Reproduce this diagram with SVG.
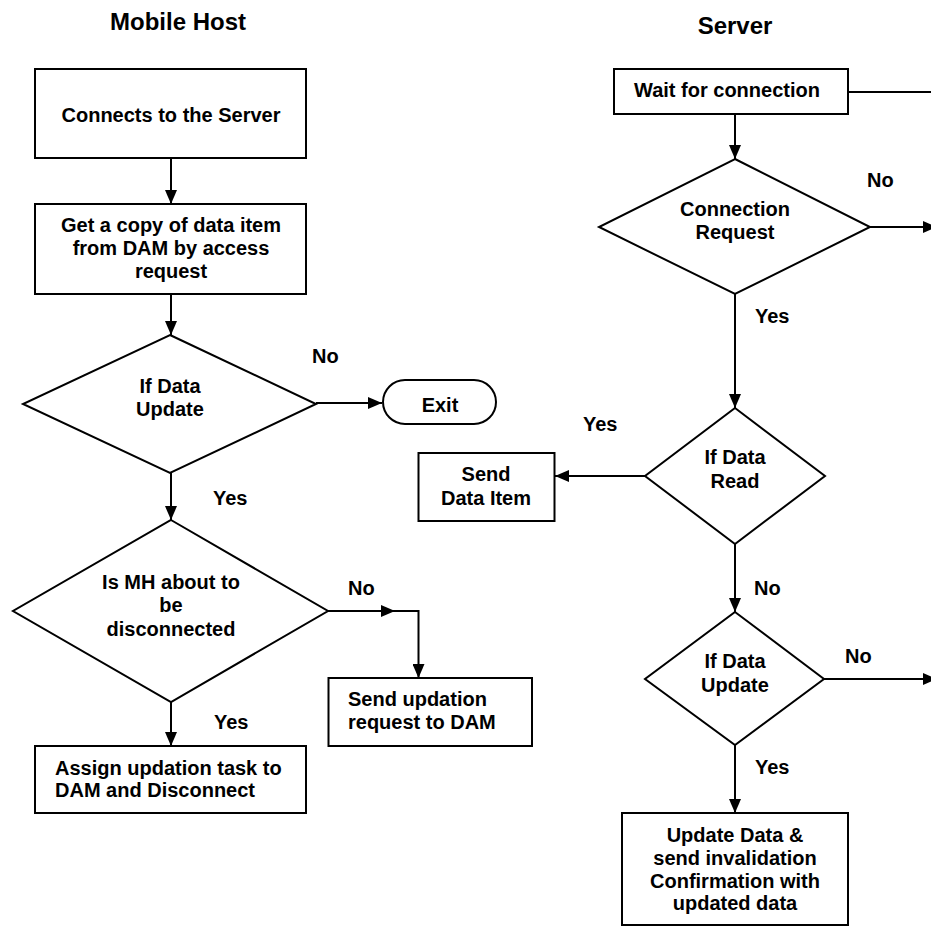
<svg xmlns="http://www.w3.org/2000/svg" width="931" height="926" viewBox="0 0 931 926">
<style>
text{font-family:"Liberation Sans",Arial,Helvetica,sans-serif;font-weight:bold;font-size:20px;fill:#000}
.t{font-size:24px}
.c{text-anchor:middle}
.shape{fill:#fff;stroke:#000;stroke-width:2}
.conn{fill:none;stroke:#000;stroke-width:2}
</style>
<defs>
<marker id="arr" markerUnits="userSpaceOnUse" markerWidth="14" markerHeight="12" viewBox="0 0 14 12" refX="14" refY="6" orient="auto">
<path d="M0,0 L14,6 L0,12 z" fill="#000"/>
</marker>
</defs>
<rect width="931" height="926" fill="#fff"/>
<text class="t c" x="178" y="30">Mobile Host</text>
<text class="t c" x="735" y="34">Server</text>
<g id="connectors">
<line class="conn" x1="171" y1="158" x2="171" y2="204" marker-end="url(#arr)"/>
<line class="conn" x1="171" y1="294" x2="171" y2="335" marker-end="url(#arr)"/>
<line class="conn" x1="316" y1="403" x2="382" y2="403" marker-end="url(#arr)"/>
<line class="conn" x1="171" y1="473" x2="171" y2="520" marker-end="url(#arr)"/>
<line class="conn" x1="328" y1="611" x2="395" y2="611" marker-end="url(#arr)"/>
<path class="conn" d="M394,611 H418.5 V678" marker-end="url(#arr)"/>
<line class="conn" x1="171" y1="702" x2="171" y2="746" marker-end="url(#arr)"/>
<line class="conn" x1="848" y1="92" x2="935" y2="92"/>
<line class="conn" x1="735" y1="114" x2="735" y2="159" marker-end="url(#arr)"/>
<line class="conn" x1="870" y1="227" x2="937" y2="227" marker-end="url(#arr)"/>
<line class="conn" x1="735" y1="294" x2="735" y2="408" marker-end="url(#arr)"/>
<line class="conn" x1="645" y1="476" x2="555" y2="476" marker-end="url(#arr)"/>
<line class="conn" x1="735" y1="544" x2="735" y2="612" marker-end="url(#arr)"/>
<line class="conn" x1="824" y1="679" x2="937" y2="679" marker-end="url(#arr)"/>
<line class="conn" x1="735" y1="745" x2="735" y2="813" marker-end="url(#arr)"/>
</g>
<g id="labels">
<text x="312" y="363">No</text>
<text x="213" y="505">Yes</text>
<text x="348" y="595">No</text>
<text x="214" y="729">Yes</text>
<text x="867" y="187">No</text>
<text x="755" y="323">Yes</text>
<text x="583" y="431">Yes</text>
<text x="754" y="595">No</text>
<text x="845" y="663">No</text>
<text x="755" y="774">Yes</text>
</g>
<g id="connect-server">
<rect class="shape" x="35" y="69" width="271" height="89"/>
<text class="c" x="171" y="122">Connects to the Server</text>
</g>
<g id="get-copy">
<rect class="shape" x="35" y="204" width="271" height="90"/>
<text class="c" x="171" y="232">Get a copy of data item</text>
<text class="c" x="171" y="255">from DAM by access</text>
<text class="c" x="171" y="278">request</text>
</g>
<g id="if-data-update-mh">
<polygon class="shape" points="170,335 316,404 170,473 23,404"/>
<text class="c" x="170" y="393">If Data</text>
<text class="c" x="170" y="416">Update</text>
</g>
<g id="exit">
<rect class="shape" x="383" y="380" width="113" height="44" rx="22" ry="22"/>
<text class="c" x="440" y="412">Exit</text>
</g>
<g id="is-mh-disconnected">
<polygon class="shape" points="171,520 328,611 171,702 13,611"/>
<text class="c" x="171" y="589">Is MH about to</text>
<text class="c" x="171" y="612">be</text>
<text class="c" x="171" y="636">disconnected</text>
</g>
<g id="send-updation">
<rect class="shape" x="328.5" y="678" width="203.5" height="68"/>
<text x="348" y="706">Send updation</text>
<text x="348" y="729">request to DAM</text>
</g>
<g id="assign-task">
<rect class="shape" x="35" y="746" width="271" height="67"/>
<text x="55" y="775">Assign updation task to</text>
<text x="55" y="797">DAM and Disconnect</text>
</g>
<g id="wait-connection">
<rect class="shape" x="614" y="69" width="234" height="45"/>
<text class="c" x="727" y="97">Wait for connection</text>
</g>
<g id="connection-request">
<polygon class="shape" points="735,159 870,227 735,294 599,227"/>
<text class="c" x="735" y="216">Connection</text>
<text class="c" x="735" y="239">Request</text>
</g>
<g id="if-data-read">
<polygon class="shape" points="735,408 825,476 735,544 645,476"/>
<text class="c" x="735" y="464">If Data</text>
<text class="c" x="735" y="488">Read</text>
</g>
<g id="send-data-item">
<rect class="shape" x="418.5" y="453" width="136" height="68"/>
<text class="c" x="486" y="481">Send</text>
<text class="c" x="486" y="505">Data Item</text>
</g>
<g id="if-data-update-server">
<polygon class="shape" points="735,612 824,679 735,745 645,679"/>
<text class="c" x="735" y="668">If Data</text>
<text class="c" x="735" y="692">Update</text>
</g>
<g id="update-data">
<rect class="shape" x="622" y="813" width="226" height="112"/>
<text class="c" x="735" y="842">Update Data &amp;</text>
<text class="c" x="735" y="865">send invalidation</text>
<text class="c" x="735" y="888">Confirmation with</text>
<text class="c" x="735" y="910">updated data</text>
</g>
</svg>
